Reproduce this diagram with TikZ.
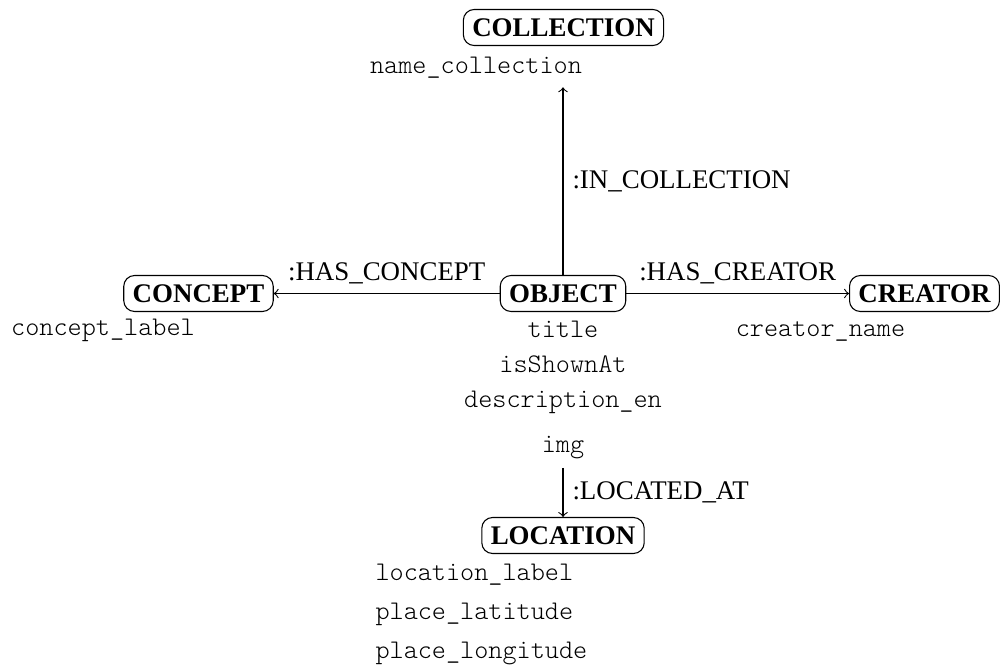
\documentclass[tikz,border=0pt]{standalone}
\usepackage{fontspec}
\setmainfont{Liberation Serif}
\setmonofont{Latin Modern Mono Light}
\begin{document}
\begin{tikzpicture}[
  x=0.37175pt, y=-0.37175pt,
  entity/.style={draw, rounded corners=4pt, font=\bfseries, inner sep=3.33pt},
  attr/.style={font=\ttfamily, anchor=base},
  attrl/.style={font=\ttfamily, anchor=base west},
  rel/.style={->}
]
\useasboundingbox (0,0) rectangle (1000,666);

% entities
\node[entity] (coll) at (563.5,27.5) {COLLECTION};
\node[entity] (obj) at (563,293.5) {OBJECT};
\node[entity] (concept) at (198.5,293.5) {CONCEPT};
\node[entity] (creator) at (924.5,293.5) {CREATOR};
\node[entity] (loc) at (563,535.5) {LOCATION};

% properties
\node[attr] (namecoll) at (476,73) {name\_collection};
\node[attr] (conceptlbl) at (103,335) {concept\_label};
\node[attr] (creatorname) at (820.5,336) {creator\_name};
\node[attr] (title) at (563,337) {title};
\node[attr] (shown) at (563,372) {isShownAt};
\node[attr] (desc) at (563,407) {description\_en};
\node[attr] (img) at (563,452) {img};
\node[attrl] (loclbl) at (366,580) {location\_label};
\node[attrl] (lat) at (366,619) {place\_latitude};
\node[attrl] (lon) at (366,658) {place\_longitude};

% relationships
\draw[rel] (obj.north) -- (obj.north |- namecoll.south)
  node[midway, right] {:IN\_COLLECTION};
\draw[rel] (obj.west) -- (concept.east)
  node[midway, above] {:HAS\_CONCEPT};
\draw[rel] (obj.east) -- (creator.west)
  node[midway, above] {:HAS\_CREATOR};
\draw[rel] (img.south) -- (loc.north)
  node[midway, right] {:LOCATED\_AT};
\end{tikzpicture}
\end{document}
